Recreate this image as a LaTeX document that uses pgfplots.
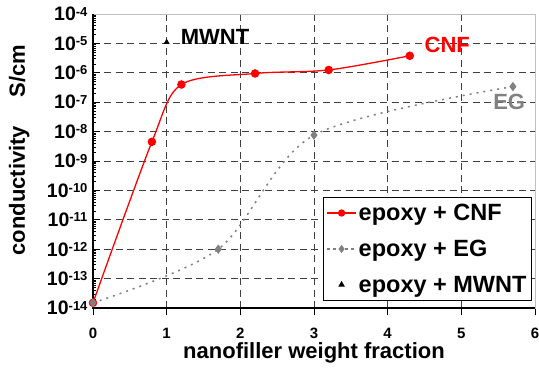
\documentclass[border=0pt]{standalone}
\usepackage{pgfplots}
\pgfplotsset{compat=1.18}
\usepackage{fontspec}
\setmainfont{Liberation Sans}
\newcommand\ylab[1]{\fontsize{19.5}{20}\selectfont\bfseries 10\raisebox{4.7pt}{\fontsize{13}{14}\selectfont\bfseries #1}}
\newcommand\bigbf{\fontsize{22}{26}\selectfont\bfseries}
\begin{document}
\begin{tikzpicture}
\begin{axis}[
  scale only axis, width=442pt, height=294pt,
  ymode=log, xmin=0, xmax=6, ymin=1e-14, ymax=1e-4,
  xtick={0,1,2,3,4,5,6},
  xticklabels={0,1,2,3,4,5,6},
  ytickten={-14,-13,-12,-11,-10,-9,-8,-7,-6,-5,-4},
  yticklabels={\ylab{-14},\ylab{-13},\ylab{-12},\ylab{-11},\ylab{-10},\ylab{-9},\ylab{-8},\ylab{-7},\ylab{-6},\ylab{-5},\ylab{-4}},
  xticklabel style={font=\fontsize{15}{16}\selectfont\bfseries, yshift=-19pt, inner sep=1pt},
  yticklabel style={xshift=-2pt},
  xtick pos=bottom, ytick pos=left,
  major tick length=7pt, minor tick length=3.5pt,
  tick style={black, line width=0.8pt},
  major x tick style={yshift=-7pt},
  grid=major,
  major grid style={black!75, line width=0.8pt, dash pattern=on 7pt off 4.5pt},
  axis line style={gray!50, line width=0.6pt},
  clip=false,
  xlabel={nanofiller weight fraction},
  xlabel style={font=\bigbf, at={(axis description cs:0.5,0)}, anchor=base, yshift=-50pt, inner sep=1pt},
  ylabel={conductivity\hspace{1.3em}S/cm},
  ylabel style={font=\bigbf, at={(axis description cs:-0.167,0.537)}, anchor=center},
  legend style={at={(0.993,0.024)}, anchor=south east, draw=black, line width=0.8pt,
    font=\fontsize{23.5}{27}\selectfont\bfseries, cells={anchor=west}, inner xsep=3pt, inner ysep=5pt, row sep=14pt},
  legend image code/.code={\draw[mark repeat=2,mark phase=2] plot coordinates {(0pt,0pt) (14.5pt,0pt) (29pt,0pt)};},
]
\addplot[red, line width=1.3pt, smooth, mark=*, mark size=3.6pt, mark options={fill=red}, forget plot]
  coordinates {(0,1.5e-14) (0.8,4.5e-9) (1.2,4e-7) (2.2,9.5e-7) (3.2,1.25e-6) (4.3,3.8e-6)};
\addplot[gray, line width=1.5pt, dash pattern=on 2pt off 5pt, smooth, mark=diamond*, mark size=3.5pt, mark options={solid, fill=gray}, forget plot]
  coordinates {(0,1.5e-14) (1.7,1e-12) (3,7.6e-9) (5.7,3.4e-7)};
\addplot[black, only marks, mark=triangle*, mark size=3pt, forget plot]
  coordinates {(1,1.1e-5)};
\draw[black, line width=1.6pt] (rel axis cs:0,1) -- (rel axis cs:0,0) -- (rel axis cs:1,0);
\node[red, font=\bigbf] at (axis cs:4.81,8.8e-6) {CNF};
\node[black, font=\bigbf] at (axis cs:1.656,1.66e-5) {MWNT};
\node[gray, font=\bigbf] at (axis cs:5.65,1e-7) {EG};
\addlegendimage{red, line width=1.3pt, mark=*, mark size=3pt, mark options={fill=red}}
\addlegendentry{epoxy + CNF}
\addlegendimage{gray, line width=1.3pt, dash pattern=on 3pt off 3pt, mark=diamond*, mark size=3pt, mark options={solid,fill=gray}}
\addlegendentry{epoxy + EG}
\addlegendimage{black, only marks, mark=triangle*, mark size=3pt}
\addlegendentry{epoxy + MWNT}
\end{axis}
\pgfresetboundingbox
\useasboundingbox (-93pt,-60pt) rectangle (446pt,308pt);
\end{tikzpicture}
\end{document}
